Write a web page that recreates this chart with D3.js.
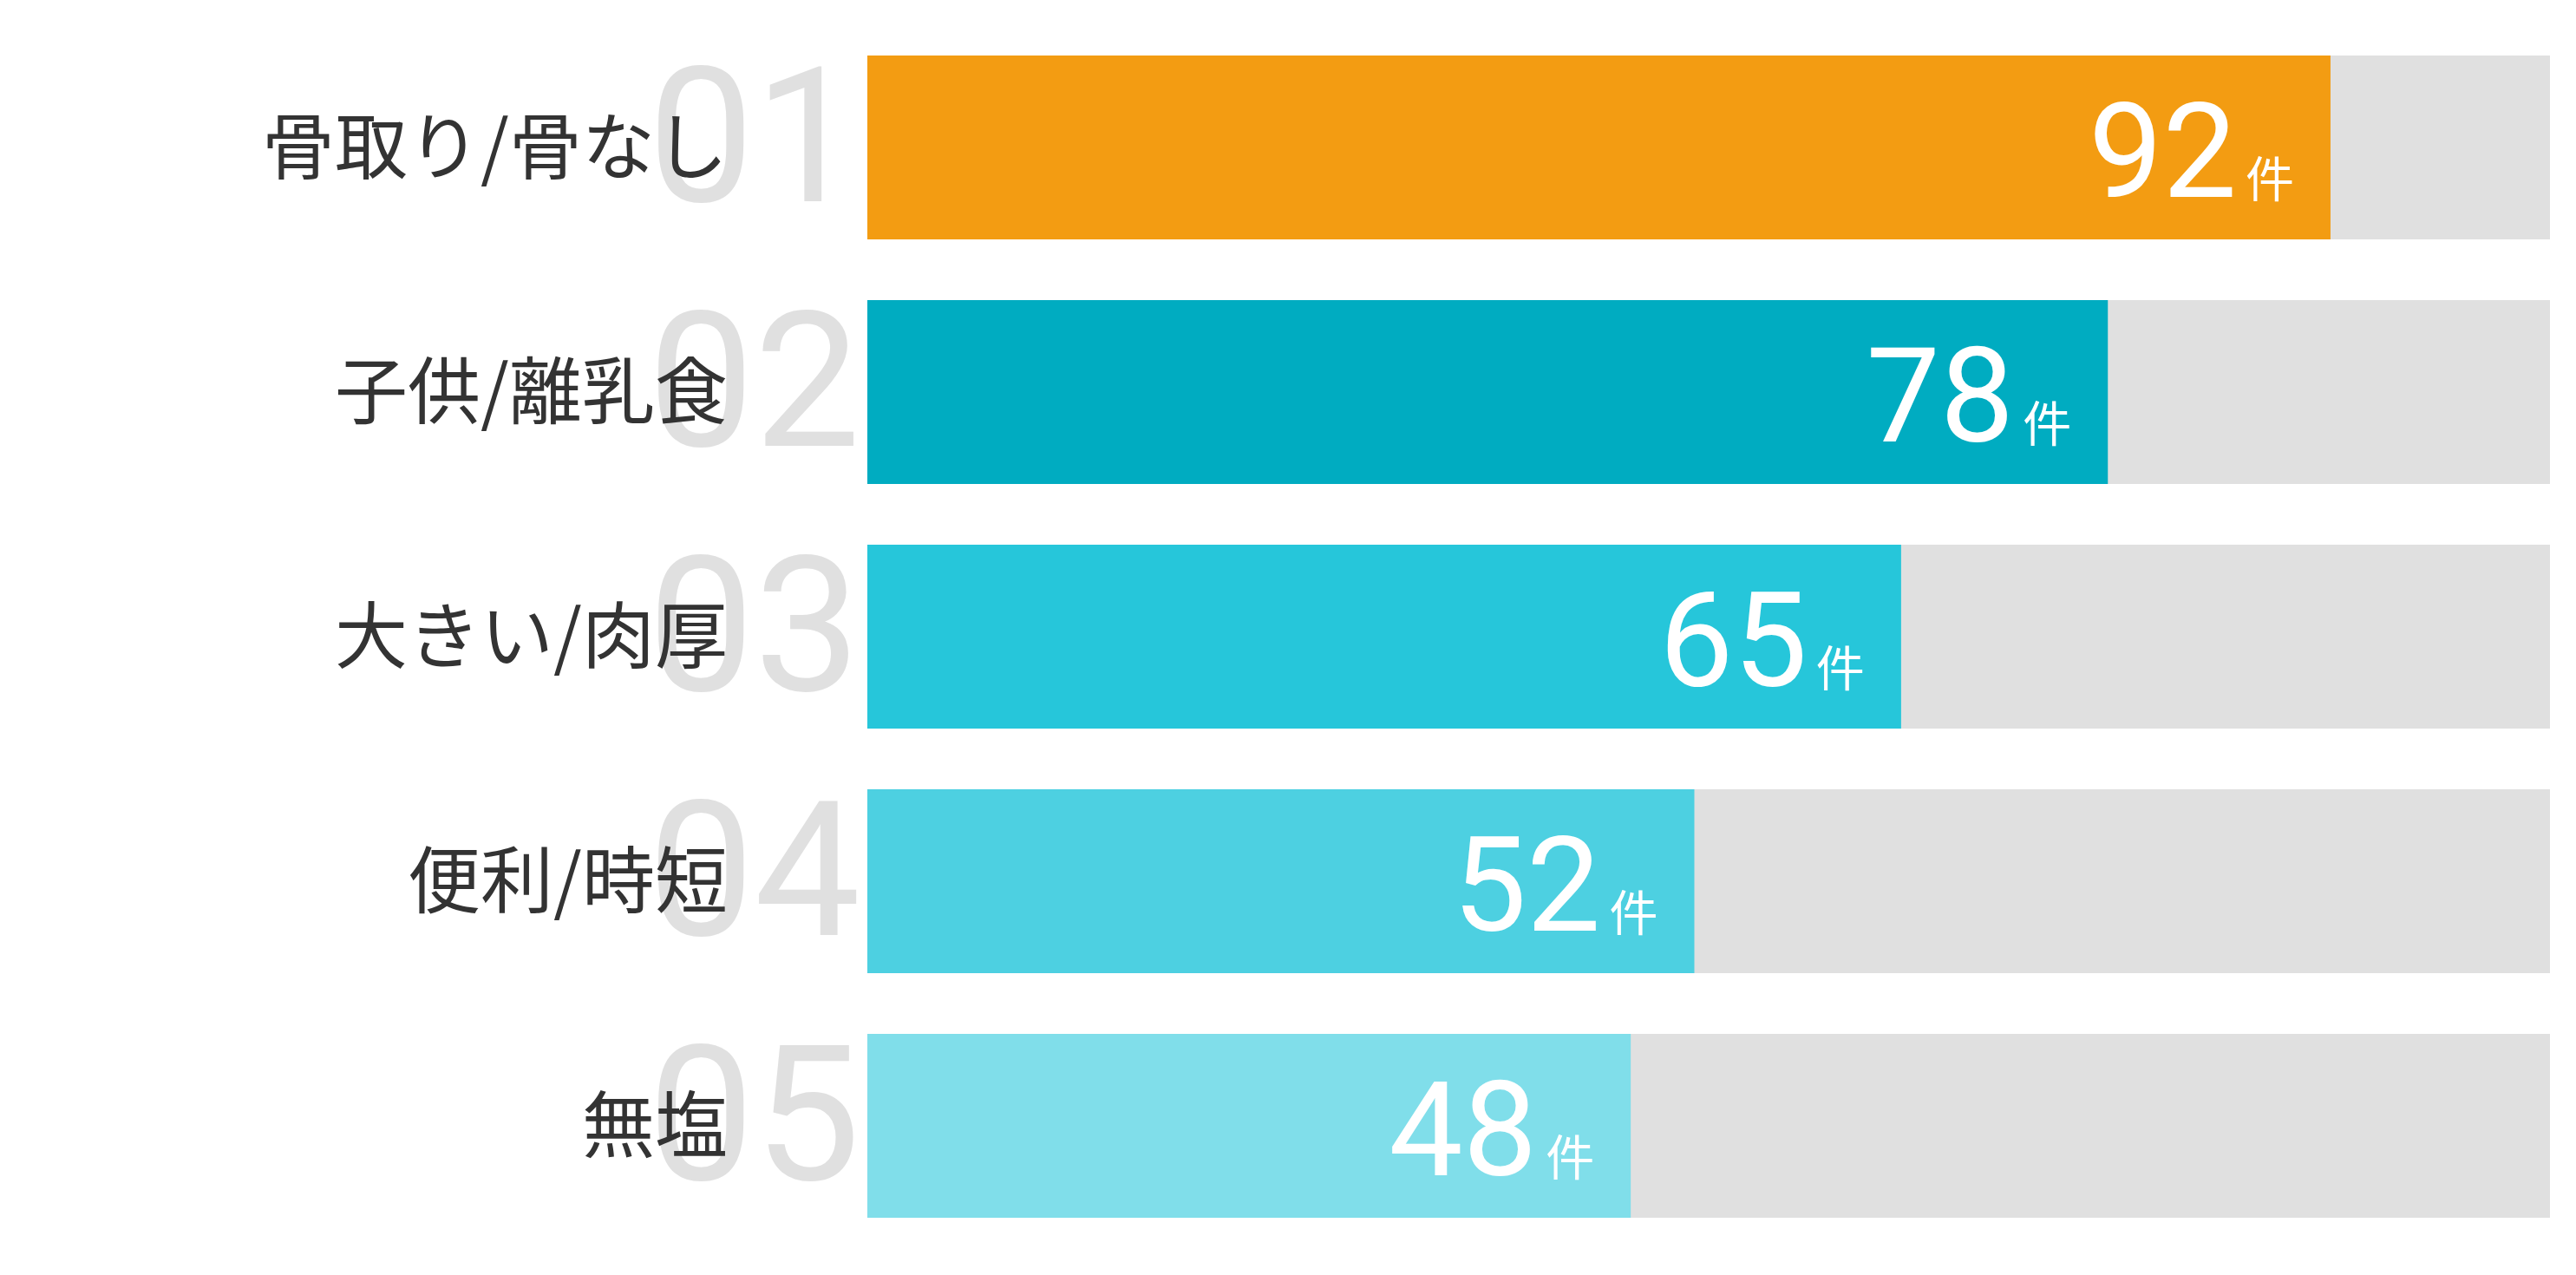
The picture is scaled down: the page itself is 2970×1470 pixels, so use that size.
<!DOCTYPE html>
<html><head><meta charset="utf-8">
<script src="https://cdn.jsdelivr.net/npm/d3@7"></script>
<style>body{margin:0;background:#fff}</style></head>
<body><svg id="c" width="2970" height="1470"></svg>
<script>
const categories = ["骨取り/骨なし","子供/離乳食","大きい/肉厚","便利/時短","無塩"];
const values = [92,78,65,52,48];
const ranks = ["01","02","03","04","05"];
const colors = ["#f39c12","#00acc1","#26c6da","#4dd0e1","#80deea"];
const unit = "件";

const svg = d3.select("#c");
const x = d3.scaleLinear().domain([0, d3.max(values)*1.15]).range([1000, 2940]);
const y2 = d3.scaleBand().domain(categories).range([64, 64+282*5-70]).paddingInner(70/282);

const g = svg.selectAll("g.row").data(categories).join("g");
g.append("rect").attr("x",x(0)).attr("y",d=>y2(d)).attr("width",x.range()[1]-x(0)).attr("height",y2.bandwidth()).attr("fill","#e0e0e0");
g.append("text").attr("x",992).attr("y",d=>y2(d)+y2.bandwidth()/2+62)
  .attr("text-anchor","end").attr("font-family","Roboto, 'Noto Sans', sans-serif").attr("font-weight",400)
  .attr("font-size",218).attr("fill","#e0e0e0").text((d,i)=>ranks[i]);
g.append("text").attr("x",839).attr("y",d=>y2(d)+y2.bandwidth()/2+30)
  .attr("text-anchor","end").attr("font-family","'Noto Sans CJK JP', sans-serif")
  .attr("font-size",84).attr("fill","#333").text(d=>d);
g.append("rect").attr("x",x(0)).attr("y",d=>y2(d)).attr("width",(d,i)=>x(values[i])-x(0)).attr("height",y2.bandwidth()).attr("fill",(d,i)=>colors[i]);
const t = g.append("text").attr("x",(d,i)=>x(values[i])-42).attr("y",d=>y2(d)+y2.bandwidth()/2+57)
  .attr("text-anchor","end").attr("fill","#fff").attr("font-family","'Noto Sans CJK JP', sans-serif");
t.append("tspan").attr("font-family","Roboto, sans-serif").attr("font-size",152).text((d,i)=>values[i]);
t.append("tspan").attr("font-size",56).attr("dx",10).text(unit);
</script></body></html>
